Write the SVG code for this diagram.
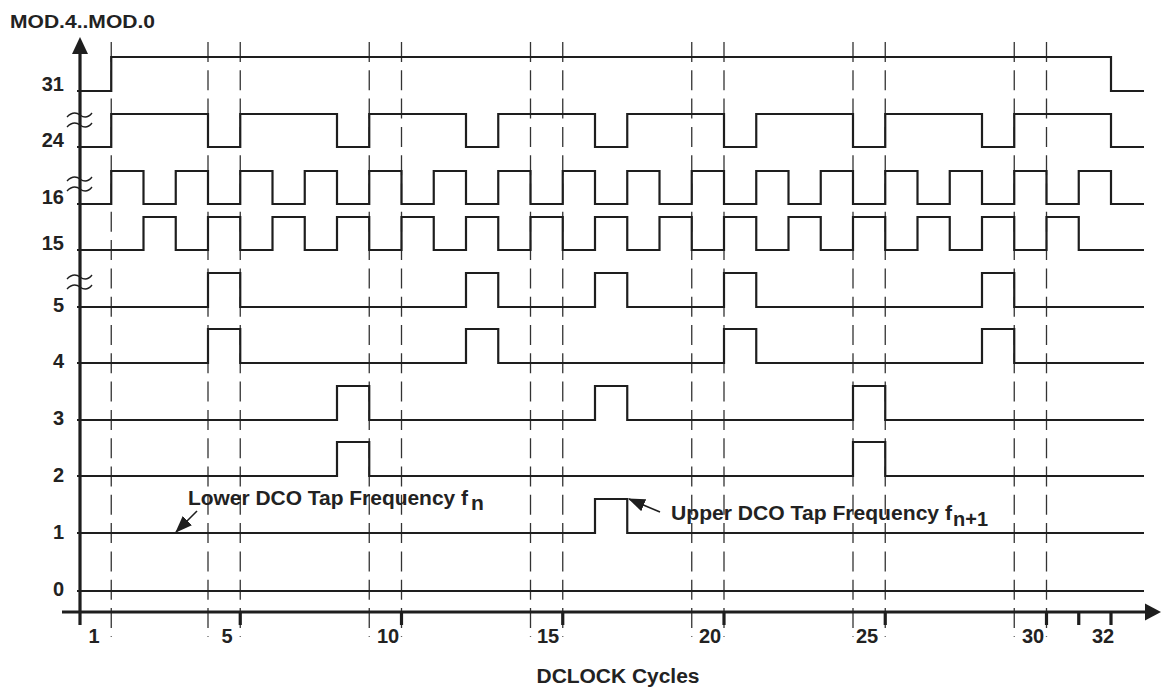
<svg xmlns="http://www.w3.org/2000/svg" width="1162" height="688" viewBox="0 0 1162 688">
<style>
text{font-family:"Liberation Sans",Arial,sans-serif;font-weight:bold;fill:#222}
.lbl{font-size:20px;text-anchor:end}
.tick{font-size:20px;text-anchor:middle}
.ann{font-size:21px}
.wave{fill:none;stroke:#1e1e1e;stroke-width:2.2;stroke-linejoin:miter}
.grid{stroke:#333;stroke-width:1.3;stroke-dasharray:20 8.3;fill:none}
.axis{stroke:#1e1e1e;stroke-width:3.2;fill:none}
.brk{fill:none;stroke:#1e1e1e;stroke-width:1.4}
.lead{stroke:#1e1e1e;stroke-width:1.6;fill:none}
</style>
<defs>
<marker id="ah" markerWidth="17" markerHeight="13" refX="16" refY="6.5" orient="auto" markerUnits="userSpaceOnUse">
<path d="M0,0 L17,6.5 L0,13 Z" fill="#1e1e1e"/>
</marker>
</defs>
<rect width="1162" height="688" fill="#fff"/>

<g id="grid">
<path class="grid" d="M111.25,42V637 M208,42V637 M240.25,42V637 M369.25,42V637 M401.5,42V637 M530.5,42V637 M562.75,42V637 M691.75,42V637 M724,42V637 M853,42V637 M885.25,42V637 M1014.25,42V637 M1046.5,42V637"/>
</g>

<g id="axes">
<path class="axis" d="M80,50V625"/>
<path d="M80,37 L72,54 L88,54 Z" fill="#1e1e1e"/>
<path class="axis" d="M62,612H1147"/>
<path d="M1161,612 L1145,603.5 L1145,620.5 Z" fill="#1e1e1e"/>
<path class="axis" d="M240.25,612V625 M401.5,612V625 M562.75,612V625 M724,612V625 M885.25,612V625 M1046.5,612V625 M1078.75,612V625 M1111,612V625"/>
<text x="10" y="28" style="font-size:19px" textLength="145" lengthAdjust="spacingAndGlyphs">MOD.4..MOD.0</text>
<text x="618" y="683" class="tick" textLength="163" lengthAdjust="spacingAndGlyphs">DCLOCK Cycles</text>
<text class="tick" x="94" y="643">1</text>
<text class="tick" x="227" y="643">5</text>
<text class="tick" x="388" y="643">10</text>
<text class="tick" x="548" y="643">15</text>
<text class="tick" x="710" y="643">20</text>
<text class="tick" x="867" y="643">25</text>
<text class="tick" x="1033" y="643">30</text>
<text class="tick" x="1103" y="643">32</text>
</g>

<g id="breaks">
<path class="brk" d="M67,117 C72,112 76,112 80,115 C84,118 88,118 92,113 M67,127 C72,122 76,122 80,125 C84,128 88,128 92,123"/>
<path class="brk" d="M67,181 C72,176 76,176 80,179 C84,182 88,182 92,177 M67,191 C72,186 76,186 80,189 C84,192 88,192 92,187"/>
<path class="brk" d="M67,279 C72,274 76,274 80,277 C84,280 88,280 92,275 M67,289 C72,284 76,284 80,287 C84,290 88,290 92,285"/>
</g>

<g id="row-31">
<text class="lbl" x="64" y="91">31</text>
<path class="wave" d="M77,91 H111.25 V57 H1111 V91 H1144"/>
</g>
<g id="row-24">
<text class="lbl" x="64" y="147">24</text>
<path class="wave" d="M77,147 H111.25 V114 H208 V147 H240.25 V114 H337 V147 H369.25 V114 H466 V147 H498.25 V114 H595 V147 H627.25 V114 H724 V147 H756.25 V114 H853 V147 H885.25 V114 H982 V147 H1014.25 V114 H1111 V147 H1144"/>
</g>
<g id="row-16">
<text class="lbl" x="64" y="204">16</text>
<path class="wave" d="M77,204 H111.25 V171 H143.5 V204 H175.75 V171 H208 V204 H240.25 V171 H272.5 V204 H304.75 V171 H337 V204 H369.25 V171 H401.5 V204 H433.75 V171 H466 V204 H498.25 V171 H530.5 V204 H562.75 V171 H595 V204 H627.25 V171 H659.5 V204 H691.75 V171 H724 V204 H756.25 V171 H788.5 V204 H820.75 V171 H853 V204 H885.25 V171 H917.5 V204 H949.75 V171 H982 V204 H1014.25 V171 H1046.5 V204 H1078.75 V171 H1111 V204 H1144"/>
</g>
<g id="row-15">
<text class="lbl" x="64" y="250">15</text>
<path class="wave" d="M77,250 H143.5 V217 H175.75 V250 H208 V217 H240.25 V250 H272.5 V217 H304.75 V250 H337 V217 H369.25 V250 H401.5 V217 H433.75 V250 H466 V217 H498.25 V250 H530.5 V217 H562.75 V250 H595 V217 H627.25 V250 H659.5 V217 H691.75 V250 H724 V217 H756.25 V250 H788.5 V217 H820.75 V250 H853 V217 H885.25 V250 H917.5 V217 H949.75 V250 H982 V217 H1014.25 V250 H1046.5 V217 H1078.75 V250 H1144"/>
</g>
<g id="row-5">
<text class="lbl" x="64" y="312">5</text>
<path class="wave" d="M77,307 H208 V273 H240.25 V307 H466 V273 H498.25 V307 H595 V273 H627.25 V307 H724 V273 H756.25 V307 H982 V273 H1014.25 V307 H1144"/>
</g>
<g id="row-4">
<text class="lbl" x="64" y="368">4</text>
<path class="wave" d="M77,363 H208 V329 H240.25 V363 H466 V329 H498.25 V363 H724 V329 H756.25 V363 H982 V329 H1014.25 V363 H1144"/>
</g>
<g id="row-3">
<text class="lbl" x="64" y="425">3</text>
<path class="wave" d="M77,420 H337 V386 H369.25 V420 H595 V386 H627.25 V420 H853 V386 H885.25 V420 H1144"/>
</g>
<g id="row-2">
<text class="lbl" x="64" y="482">2</text>
<path class="wave" d="M77,476 H337 V442 H369.25 V476 H853 V442 H885.25 V476 H1144"/>
</g>
<g id="row-1">
<text class="lbl" x="64" y="539">1</text>
<path class="wave" d="M77,533 H595 V499 H627.25 V533 H1144"/>
</g>
<g id="row-0">
<text class="lbl" x="64" y="596">0</text>
<path class="wave" d="M77,591 H1144"/>
</g>

<g id="label-lower">
<text class="ann" x="188" y="505" textLength="280" lengthAdjust="spacingAndGlyphs">Lower DCO Tap Frequency f</text>
<text class="ann" x="471" y="510">n</text>
</g>
<g id="label-upper">
<text class="ann" x="671" y="520" textLength="281" lengthAdjust="spacingAndGlyphs">Upper DCO Tap Frequency f</text>
<text class="ann" x="953" y="526" textLength="35" lengthAdjust="spacingAndGlyphs">n+1</text>
</g>

<g id="connectors">
<line class="lead" x1="197" y1="511" x2="176" y2="532" marker-end="url(#ah)"/>
<line class="lead" x1="660" y1="512" x2="629" y2="499" marker-end="url(#ah)"/>
</g>
</svg>
